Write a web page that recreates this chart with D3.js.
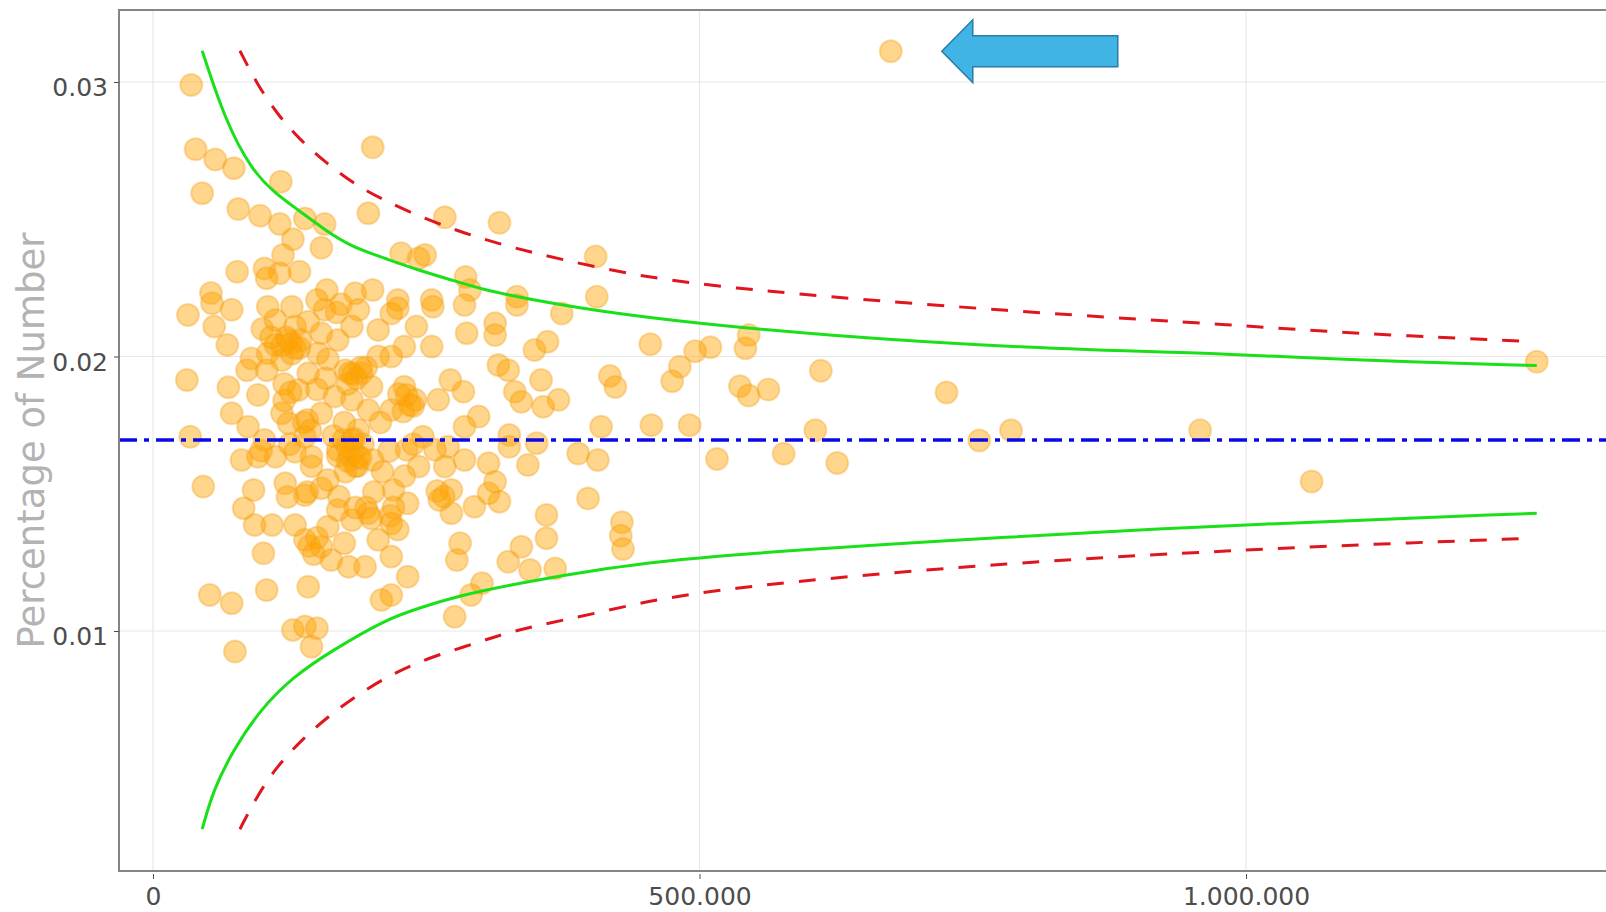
<!DOCTYPE html>
<html>
<head>
<meta charset="utf-8">
<script src="https://cdn.jsdelivr.net/npm/d3@7"></script>
<style>
  body { margin: 0; background: #fff; }
  svg { display: block; font-family: "DejaVu Sans", Verdana, sans-serif; }
</style>
</head>
<body>
<svg id="chart"></svg>
<script>
// Funnel plot: share per unit vs. number, with control limits

// Scatter points [number, percentage]
var points = [
  [675000, 0.03112], [35000, 0.02989], [455000, 0.02045], [482000, 0.01963], [475000, 0.0191],
  [510000, 0.02034], [496000, 0.02019], [542000, 0.0203], [545000, 0.02078], [537000, 0.01892],
  [545000, 0.01858], [563000, 0.0188], [611000, 0.01948], [726000, 0.01869], [785000, 0.01731],
  [756000, 0.01694], [958000, 0.01731], [1060000, 0.01545], [1266000, 0.01981], [606000, 0.01731],
  [577000, 0.01646], [626000, 0.01612], [516000, 0.01627], [491000, 0.0175], [456000, 0.0175],
  [418000, 0.01929], [423000, 0.01889], [429000, 0.01396], [428000, 0.01347], [430000, 0.01299],
  [39000, 0.02755], [57000, 0.02718], [74000, 0.02686], [45000, 0.02595], [117000, 0.02637],
  [201000, 0.02762], [78000, 0.02537], [98000, 0.02513], [116000, 0.02483], [139000, 0.02503],
  [157000, 0.02483], [197000, 0.02522], [128000, 0.02427], [154000, 0.02396], [119000, 0.0237],
  [77000, 0.02309], [102000, 0.02321], [116000, 0.02303], [134000, 0.02309], [104000, 0.02285],
  [53000, 0.02231], [159000, 0.02242], [185000, 0.0223], [201000, 0.02242],
  [267000, 0.02507], [317000, 0.02487], [405000, 0.02364], [227000, 0.02376], [243000, 0.02358],
  [249000, 0.0237], [290000, 0.02242], [224000, 0.02206], [255000, 0.02206], [333000, 0.02218],
  [406000, 0.02218],
  [32000, 0.02151], [54000, 0.02194], [72000, 0.0217], [56000, 0.02109], [68000, 0.02042],
  [31000, 0.01914], [69000, 0.01888], [96000, 0.0186], [72000, 0.01793], [87000, 0.01744],
  [34000, 0.01708], [90000, 0.01993], [86000, 0.0195], [105000, 0.02012], [104000, 0.0195],
  [118000, 0.01987], [127000, 0.02048], [130000, 0.02109], [112000, 0.02133], [105000, 0.02181],
  [127000, 0.02181], [142000, 0.02127], [157000, 0.0217], [154000, 0.02085], [169000, 0.0206],
  [182000, 0.02109], [188000, 0.0217], [206000, 0.02097], [142000, 0.01939], [133000, 0.01878],
  [158000, 0.01921], [176000, 0.0195], [191000, 0.01939], [166000, 0.01854], [154000, 0.01793],
  [182000, 0.01842], [197000, 0.01805], [200000, 0.0189], [124000, 0.01757], [118000, 0.01793],
  [102000, 0.01696], [81000, 0.01623], [96000, 0.01635], [112000, 0.01635], [130000, 0.01653],
  [145000, 0.01635], [169000, 0.01659], [188000, 0.01635], [201000, 0.01623], [182000, 0.01696],
  [139000, 0.01708], [46000, 0.01526], [206000, 0.02], [151000, 0.02012],
  [224000, 0.02176], [256000, 0.02181], [285000, 0.02188], [333000, 0.02188], [374000, 0.02157],
  [241000, 0.02109], [230000, 0.02036], [255000, 0.02036], [287000, 0.02085], [313000, 0.02121],
  [313000, 0.02078], [349000, 0.02024], [361000, 0.02054], [316000, 0.01969], [325000, 0.0195],
  [355000, 0.01914], [272000, 0.01914], [284000, 0.01872], [261000, 0.01842], [331000, 0.01872],
  [337000, 0.01835], [357000, 0.01817], [371000, 0.01842], [410000, 0.01744], [298000, 0.01781],
  [285000, 0.01744], [247000, 0.01708], [270000, 0.01671], [326000, 0.01714], [326000, 0.01671],
  [351000, 0.01684], [389000, 0.01647], [285000, 0.01623], [307000, 0.01611], [343000, 0.01605],
  [407000, 0.01623], [218000, 0.02157], [218000, 0.02], [230000, 0.0189], [240000, 0.01842],
  [218000, 0.01805], [258000, 0.0166], [243000, 0.01599], [267000, 0.01599],
  [92000, 0.01514], [83000, 0.01447], [93000, 0.01386], [109000, 0.01386], [101000, 0.01283],
  [139000, 0.01495], [130000, 0.01386], [139000, 0.01332], [154000, 0.01307], [163000, 0.01259],
  [179000, 0.01234], [194000, 0.01234], [169000, 0.01441], [182000, 0.01404], [197000, 0.01429],
  [206000, 0.01332], [142000, 0.01161], [104000, 0.01149], [52000, 0.01131], [72000, 0.01101],
  [128000, 0.01004], [139000, 0.01016], [150000, 0.0101], [145000, 0.00943], [75000, 0.00925],
  [209000, 0.01113], [154000, 0.0152], [121000, 0.01538],
  [220000, 0.01514], [233000, 0.01465], [262000, 0.01477], [273000, 0.01429], [294000, 0.01453],
  [317000, 0.01471], [307000, 0.01502], [313000, 0.01544], [398000, 0.01483], [360000, 0.01423],
  [360000, 0.01338], [337000, 0.01307], [325000, 0.01252], [345000, 0.01222], [368000, 0.01228],
  [281000, 0.0132], [278000, 0.01259], [233000, 0.01198], [218000, 0.01131], [301000, 0.01174],
  [291000, 0.01131], [276000, 0.01052], [218000, 0.01392], [218000, 0.01271], [273000, 0.01514],
  [178000, 0.01619], [183000, 0.01656], [174000, 0.01696], [187000, 0.01601], [169000, 0.01638],
  [123000, 0.0206], [134000, 0.02031], [112000, 0.02042], [183000, 0.01936], [225000, 0.01863],
  [235000, 0.01823], [141000, 0.01769], [216000, 0.01656], [230000, 0.01565], [141000, 0.01506],
  [202000, 0.01506], [188000, 0.01732], [99000, 0.01657], [123000, 0.01488], [286000, 0.0229],
  [150000, 0.02206], [160000, 0.0199], [195000, 0.0196], [175000, 0.0176], [150000, 0.0188],
  [120000, 0.0184], [208000, 0.0176], [165000, 0.0171], [192000, 0.0168], [145000, 0.016],
  [160000, 0.0155], [125000, 0.0168], [210000, 0.0158], [170000, 0.0149], [185000, 0.0145],
  [160000, 0.0138], [175000, 0.0132],
  [122000, 0.0207], [130000, 0.0203], [135000, 0.0206], [127000, 0.0201], [118000, 0.0204],
  [180000, 0.0194], [186000, 0.0192], [178000, 0.019], [190000, 0.0196],
  [180000, 0.0164], [185000, 0.016], [178000, 0.0167], [190000, 0.0163], [176000, 0.0158], [184000, 0.017],
  [232000, 0.0186], [238000, 0.0182], [229000, 0.018],
  [217000, 0.0142], [224000, 0.0137], [220000, 0.0145],
  [143000, 0.0131], [150000, 0.0134], [147000, 0.0128],
  [138000, 0.0176], [144000, 0.0173], [100000, 0.021], [108000, 0.0207],
  [260000, 0.0151], [266000, 0.0149], [120000, 0.019], [126000, 0.0187],
  [168000, 0.0216], [172000, 0.0219], [232000, 0.0166], [238000, 0.0168],
  [195000, 0.0145], [200000, 0.0141]
];

// Overall rate (blue dash-dot line)
var meanRate = 0.01696;

// Inner limits (green)
var innerUpper = [
  [45000, 0.03114], [65800, 0.02862], [90200, 0.02679], [111500, 0.02595], [132800, 0.02534],
  [157200, 0.02461], [181600, 0.024], [212000, 0.02358], [242500, 0.02315], [273000, 0.02279],
  [303500, 0.02242], [340000, 0.02212], [410000, 0.02163], [499600, 0.0212], [609000, 0.02079],
  [796000, 0.0203], [1000000, 0.02008], [1094500, 0.01987], [1266000, 0.01967]
];
var innerLower = [
  [45000, 0.00278], [55100, 0.00421], [73400, 0.00566], [97800, 0.00712], [128200, 0.00834],
  [164800, 0.00931], [212000, 0.0104], [242500, 0.01083], [282200, 0.01131], [334000, 0.01174],
  [413200, 0.01228], [499600, 0.01273], [796000, 0.01347], [1000000, 0.01388], [1266000, 0.01429]
];

// Outer limits (red dashed)
var outerUpper = [
  [79500, 0.03114], [94800, 0.02995], [113100, 0.02886], [134400, 0.02789], [158800, 0.02704],
  [183100, 0.02631], [210500, 0.0257], [251700, 0.02497], [285200, 0.02449], [315600, 0.02412],
  [349200, 0.02376], [410000, 0.02321], [499600, 0.02254], [796000, 0.02161], [1000000, 0.02112],
  [1094000, 0.02085], [1263000, 0.02054]
];
var outerLower = [
  [79500, 0.00278], [94800, 0.00396], [113100, 0.00506], [137400, 0.00609], [161800, 0.00694],
  [189200, 0.00773], [219700, 0.00846], [251700, 0.00901], [285200, 0.00943], [315600, 0.00983],
  [346200, 0.01016], [410000, 0.01068], [499600, 0.01153], [796000, 0.01254], [1000000, 0.01295],
  [1094000, 0.01313], [1263000, 0.01338]
];

var xTicks = [0, 500000, 1000000];
var yTicks = [0.01, 0.02, 0.03];
var yTitle = "Percentage of Number";

// Canvas
var w = 1606;
var h = 912;
var margin = { top: 10, right: -4, bottom: 41, left: 119 };
var width = w - margin.left - margin.right;
var height = h - margin.top - margin.bottom;

var xScale = d3.scaleLinear()
    .domain([-31100, 1333000])
    .range([0, width]);

var yScale = d3.scaleLinear()
    .domain([0.001257, 0.032623])
    .range([height, 0]);

var svg = d3.select("#chart")
    .attr("width", w)
    .attr("height", h)
    .append("g")
    .attr("transform", "translate(" + margin.left + "," + margin.top + ")");

svg.append("defs").append("clipPath")
    .attr("id", "plot-clip")
    .append("rect")
    .attr("width", width)
    .attr("height", height);

// Grid lines
svg.selectAll(".vgrid")
    .data(xTicks)
    .enter().append("line")
    .attr("class", "vgrid")
    .attr("x1", d => xScale(d)).attr("x2", d => xScale(d))
    .attr("y1", 0).attr("y2", height)
    .attr("stroke", "#e8e8e8")
    .attr("stroke-width", 1.2);

svg.selectAll(".hgrid")
    .data(yTicks)
    .enter().append("line")
    .attr("class", "hgrid")
    .attr("x1", 0).attr("x2", width)
    .attr("y1", d => yScale(d)).attr("y2", d => yScale(d))
    .attr("stroke", "#e8e8e8")
    .attr("stroke-width", 1.2);

var plot = svg.append("g").attr("clip-path", "url(#plot-clip)");

// Points
plot.selectAll(".dot")
    .data(points)
    .enter().append("circle")
    .attr("class", "dot")
    .attr("cx", d => xScale(d[0]))
    .attr("cy", d => yScale(d[1]))
    .attr("r", 11)
    .attr("fill", "#ffa500")
    .attr("fill-opacity", 0.45)
    .attr("stroke", "#f0a020")
    .attr("stroke-opacity", 0.35)
    .attr("stroke-width", 2);

// Control limit lines (smoothed through the read points)
var line = d3.line()
    .x(d => xScale(d[0]))
    .y(d => yScale(d[1]))
    .curve(d3.curveBasis);

[outerUpper, outerLower].forEach(function (series) {
    plot.append("path")
        .datum(series)
        .attr("fill", "none")
        .attr("stroke", "#e0161e")
        .attr("stroke-width", 3)
        .attr("stroke-dasharray", "17,15")
        .attr("d", line);
});

[innerUpper, innerLower].forEach(function (series) {
    plot.append("path")
        .datum(series)
        .attr("fill", "none")
        .attr("stroke", "#19e019")
        .attr("stroke-width", 3)
        .attr("d", line);
});

// Mean rate line
plot.append("line")
    .attr("x1", xScale(xScale.domain()[0]))
    .attr("x2", xScale(xScale.domain()[1]))
    .attr("y1", yScale(meanRate))
    .attr("y2", yScale(meanRate))
    .attr("stroke", "#0a0ae6")
    .attr("stroke-width", 3.5)
    .attr("stroke-dasharray", "18,7,5,7");

// Panel border
svg.append("rect")
    .attr("width", width)
    .attr("height", height)
    .attr("fill", "none")
    .attr("stroke", "#858585")
    .attr("stroke-width", 2);

// Axes
var xFormat = d3.formatLocale({ decimal: ",", thousands: ".", grouping: [3], currency: ["", ""] }).format(",d");

var xAxis = svg.append("g")
    .attr("transform", "translate(0," + (height + 3) + ")")
    .call(d3.axisBottom(xScale).tickValues(xTicks).tickFormat(xFormat).tickSize(5).tickPadding(8));

var yAxis = svg.append("g")
    .call(d3.axisLeft(yScale).tickValues(yTicks).tickFormat(d3.format(".2f")).tickSize(5).tickPadding(6));

[xAxis, yAxis].forEach(function (ax) {
    ax.select(".domain").remove();
    ax.selectAll("line").attr("stroke", "#4d4d4d");
    ax.selectAll("text")
        .attr("fill", "#4d4d4d")
        .attr("font-size", "25px")
        .attr("font-family", "'DejaVu Sans', Verdana, sans-serif");
});
yAxis.selectAll("text").attr("dy", "0.55em");

// Y axis title
svg.append("text")
    .attr("transform", "translate(" + (44 - margin.left) + "," + (height / 2) + ") rotate(-90)")
    .attr("text-anchor", "middle")
    .attr("font-size", "37px")
    .attr("fill", "#b3b3b3")
    .text(yTitle);

// Arrow pointing at the highest point
var top1 = points.reduce((a, b) => (b[1] > a[1] ? b : a));
var ax0 = xScale(top1[0]);
var ay0 = yScale(top1[1]);
var arrow = [
    [ax0 + 51, ay0], [ax0 + 82, ay0 - 31.5], [ax0 + 82, ay0 - 15.5], [ax0 + 227, ay0 - 15.5],
    [ax0 + 227, ay0 + 15.5], [ax0 + 82, ay0 + 15.5], [ax0 + 82, ay0 + 31.5]
];
svg.append("path")
    .attr("d", "M" + arrow.map(p => p.join(",")).join("L") + "Z")
    .attr("fill", "#41b4e6")
    .attr("stroke", "#2b7ca6")
    .attr("stroke-width", 1.5);
</script>
</body>
</html>
